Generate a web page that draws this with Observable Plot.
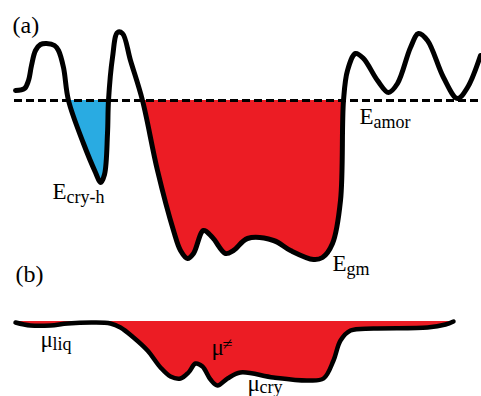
<!DOCTYPE html>
<html><head><meta charset="utf-8">
<script src="https://cdn.jsdelivr.net/npm/d3@7"></script>
<script src="https://cdn.jsdelivr.net/npm/@observablehq/plot@0.6"></script>
<style>
body{margin:0;background:#fff}
</style>
</head><body><div id="chart"></div>
<script>
// Schematic energy landscape (a): points along the curve (x, energy drawn downward)
const landscapeA = [[15,90],[24,88],[28,80],[31,65],[35,50],[40,44],[46,43],[54,45],[58,50],[63,67],[68,100],[83,143],[95,172],[100,182],[104,174],[107,133],[108,100],[112,57],[117,32],[122,33],[130,60],[142,100],[157,170],[173,230],[180,250],[187,258],[193,253],[203,230],[212,237],[225,253],[233,250],[247,238],[273,240],[290,250],[313,259],[322,257],[332,243],[340,200],[343,100],[347,70],[355,53],[363,58],[377,80],[388,92],[397,83],[410,47],[418,33],[427,40],[443,77],[457,98],[467,87],[480,55]];
const amorphousLevel = 100;
// wells below the amorphous level
const wellCry = landscapeA.filter(d => d[0] >= 68 && d[0] <= 108);
const wellGm = landscapeA.filter(d => d[0] >= 142 && d[0] <= 343);

// Chemical potential profile (b)
const profileB = [[15,322],[30,325],[50,325],[67,323],[93,322],[110,323],[120,327],[133,337],[147,350],[160,367],[170,376],[180,378],[188,372],[195,363],[202,366],[210,379],[217,385],[227,378],[240,372],[273,377],[307,380],[323,378],[333,360],[340,340],[350,330],[373,328],[427,327],[445,324],[453,321]];
const liquidLevel = 321;

// Labels
const panelLabels = [{x:12, y:32, text:"(a)"}, {x:15, y:281, text:"(b)"}];
const symbols = [
  {x:52, y:198, text:"E"}, {x:359, y:123, text:"E"}, {x:332, y:270, text:"E"},
  {x:40, y:346, text:"μ"}, {x:211, y:354, text:"μ"}, {x:247, y:390, text:"μ"}
];
const subscripts = [
  {x:66, y:202, text:"cry-h"}, {x:373, y:127, text:"amor"}, {x:346, y:274, text:"gm"},
  {x:52, y:349, text:"liq"}, {x:259, y:392, text:"cry"}
];
const superscripts = [{x:222, y:349, text:"≠"}];

const font = "'Liberation Serif', 'Times New Roman', serif";
const chart = Plot.plot({
  width: 481, height: 396, margin: 0,
  x: {domain: [0, 481], range: [0, 481]},
  y: {domain: [0, 396], range: [0, 396]},
  axis: null,
  style: {background: "white", fontFamily: font},
  marks: [
    Plot.areaY(wellCry, {x: d => d[0], y1: amorphousLevel, y2: d => d[1], fill: "#29abe2", curve: "catmull-rom"}),
    Plot.areaY(wellGm, {x: d => d[0], y1: amorphousLevel, y2: d => d[1], fill: "#ec1c24", curve: "catmull-rom"}),
    Plot.areaY(profileB, {x: d => d[0], y1: liquidLevel, y2: d => d[1], fill: "#ec1c24", curve: "catmull-rom"}),
    Plot.ruleY([amorphousLevel], {x1: 14, x2: 481, stroke: "black", strokeWidth: 2.8, strokeDasharray: "8,4"}),
    Plot.line(landscapeA, {x: d => d[0], y: d => d[1], stroke: "black", strokeWidth: 5, curve: "catmull-rom", strokeLinecap: "round"}),
    Plot.line(profileB, {x: d => d[0], y: d => d[1], stroke: "black", strokeWidth: 4.5, curve: "catmull-rom", strokeLinecap: "round"}),
    Plot.text(panelLabels, {x: "x", y: "y", text: "text", fontSize: 24, fontFamily: font, textAnchor: "start", lineAnchor: "bottom", fill: "black"}),
    Plot.text(symbols, {x: "x", y: "y", text: "text", fontSize: 23, fontFamily: font, textAnchor: "start", lineAnchor: "bottom", fill: "black"}),
    Plot.text(subscripts, {x: "x", y: "y", text: "text", fontSize: 18, fontFamily: font, textAnchor: "start", lineAnchor: "bottom", fill: "black"}),
    Plot.text(superscripts, {x: "x", y: "y", text: "text", fontSize: 18, fontFamily: font, textAnchor: "start", lineAnchor: "bottom", fill: "black"})
  ]
});
document.getElementById("chart").appendChild(chart);
</script>
</body></html>
